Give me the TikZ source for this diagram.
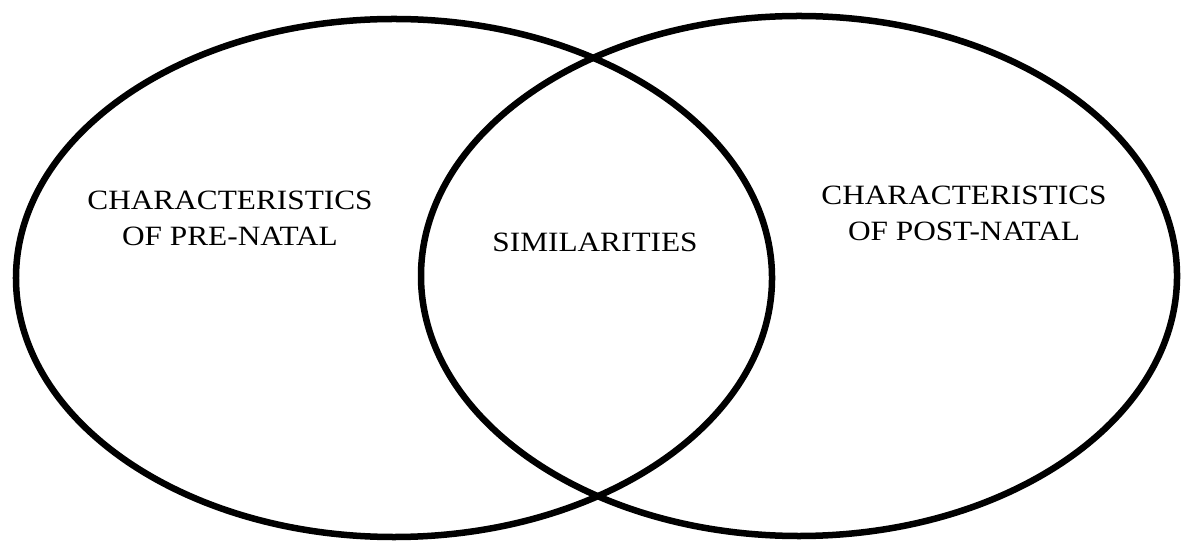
\documentclass[tikz,border=0pt]{standalone}
\usepackage{fontspec}
\setmainfont{Liberation Serif}[FakeStretch=1.12]
\usetikzlibrary{shapes.geometric}
\tikzset{
  vennset/.style={draw, ellipse, line width=3.7pt, inner sep=0pt, minimum width=151.2mm},
  vennlabel/.style={align=center, inner sep=0pt, font=\fontsize{15.9}{20.4}\selectfont}
}

\begin{document}
\begin{tikzpicture}[x=0.2mm, y=-0.2mm]
  \useasboundingbox (0,0) rectangle (1184,541);
  % the two sets
  \node[vennset, minimum height=103.6mm] (prenatal) at (394,278) {};
  \node[vennset, minimum height=104mm] (postnatal) at (799,276) {};

  % labels
  \node[vennlabel] (prelabel) at (230,218) {CHARACTERISTICS\\OF PRE-NATAL};
  \node[vennlabel] (simlabel) at (595,242) {SIMILARITIES};
  \node[vennlabel] (postlabel) at (964,213) {CHARACTERISTICS\\OF POST-NATAL};
\end{tikzpicture}
\end{document}
